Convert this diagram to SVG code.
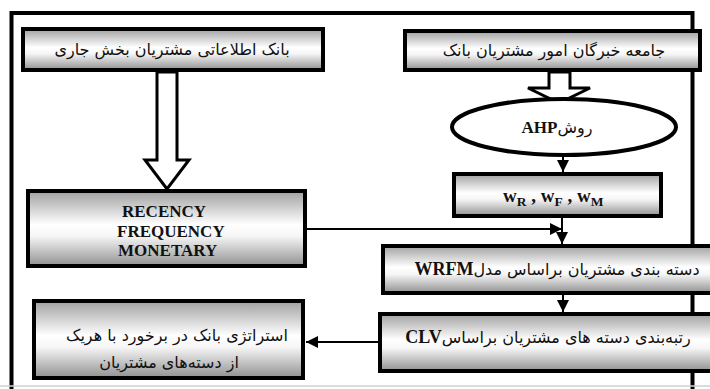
<svg xmlns="http://www.w3.org/2000/svg" width="710" height="389" viewBox="0 0 710 389">
<style>
.box{fill:url(#g);stroke:#000;stroke-width:4}
.fa{font-family:"DejaVu Sans",sans-serif;font-size:16px;fill:#111;direction:rtl}
.lat{font-family:"Liberation Serif",serif;font-weight:bold;fill:#111}
.ln{stroke:#000;stroke-width:2;fill:none}
.hollow{fill:#fff;stroke:#000;stroke-width:3;stroke-linejoin:miter}
</style>
<defs>
<linearGradient id="g" x1="0" y1="0" x2="0" y2="1">
<stop offset="0" stop-color="#a0a0a0"/>
<stop offset="0.45" stop-color="#ffffff"/>
<stop offset="0.6" stop-color="#f6f6f6"/>
<stop offset="1" stop-color="#909090"/>
</linearGradient>
<marker id="ah" viewBox="0 0 10 10" refX="10" refY="5" markerWidth="6" markerHeight="6" orient="auto" markerUnits="strokeWidth">
<path d="M0,0 L10,5 L0,10 z" fill="#000"/>
</marker>
</defs>
<rect width="710" height="389" fill="#fff"/>
<g id="frame">
<path d="M11.5,389 V13 H692.5 V389" fill="none" stroke="#000" stroke-width="4"/>
<line x1="0" y1="386" x2="710" y2="386" stroke="#d0d0d0" stroke-width="1.5"/>
</g>
<g id="connectors">
<polygon class="hollow" points="157,72 177,72 177,160 189,160 167,189 145,160 157,160"/>
<polygon class="hollow" points="549,72 570,72 570,88 590,88 559,103 528,88 549,88"/>
<line class="ln" x1="563" y1="157" x2="563" y2="172" marker-end="url(#ah)"/>
<line class="ln" x1="562" y1="218" x2="562" y2="244" marker-end="url(#ah)"/>
<line class="ln" x1="307" y1="229" x2="562" y2="229" marker-end="url(#ah)"/>
<line class="ln" x1="563" y1="295" x2="563" y2="312" marker-end="url(#ah)"/>
<line class="ln" x1="378" y1="342" x2="306" y2="342" marker-end="url(#ah)"/>
</g>
<g id="n-bank">
<rect class="box" x="23" y="29" width="300" height="41"/>
<text class="fa" x="172" y="55" text-anchor="middle">بانک اطلاعاتی مشتریان بخش جاری</text>
</g>
<g id="n-experts">
<rect class="box" x="405" y="31" width="295" height="39"/>
<text class="fa" x="554" y="56" text-anchor="middle">جامعه خبرگان امور مشتریان بانک</text>
</g>
<g id="n-ahp">
<ellipse cx="564" cy="127" rx="112" ry="28" fill="#fff" stroke="#000" stroke-width="4"/>
<text class="fa" x="557" y="133" text-anchor="middle">روش<tspan class="lat" font-size="17">AHP</tspan></text>
</g>
<g id="n-weights">
<rect class="box" x="454" y="174" width="207" height="42"/>
<text class="lat" x="503" y="202" font-size="19">w<tspan font-size="13.5" dy="4">R</tspan><tspan dy="-4">  , w</tspan><tspan font-size="13.5" dy="4">F</tspan><tspan dy="-4"> , w</tspan><tspan font-size="13.5" dy="4">M</tspan></text>
</g>
<g id="n-rfm">
<rect class="box" x="28" y="191" width="277" height="75"/>
<text class="lat" font-size="17"><tspan x="122" y="217">RECENCY</tspan><tspan x="117" y="237">FREQUENCY</tspan><tspan x="118" y="256">MONETARY</tspan></text>
</g>
<g id="n-wrfm">
<rect class="box" x="383" y="246" width="340" height="47"/>
<text class="fa" x="557" y="275" text-anchor="middle">دسته بندی مشتریان براساس مدل<tspan class="lat" font-size="18">WRFM</tspan></text>
</g>
<g id="n-clv">
<rect class="box" x="380" y="314" width="340" height="57"/>
<text class="fa" x="548" y="343" text-anchor="middle">رتبه‌بندی دسته های مشتریان  براساس<tspan class="lat" font-size="18">CLV</tspan></text>
</g>
<g id="n-strategy">
<rect class="box" x="34" y="301" width="269" height="77"/>
<text class="fa" x="177" y="341" text-anchor="middle">استراتژی بانک در برخورد با هریک</text>
<text class="fa" x="169" y="368" text-anchor="middle">از دسته‌های مشتریان</text>
</g>
</svg>
